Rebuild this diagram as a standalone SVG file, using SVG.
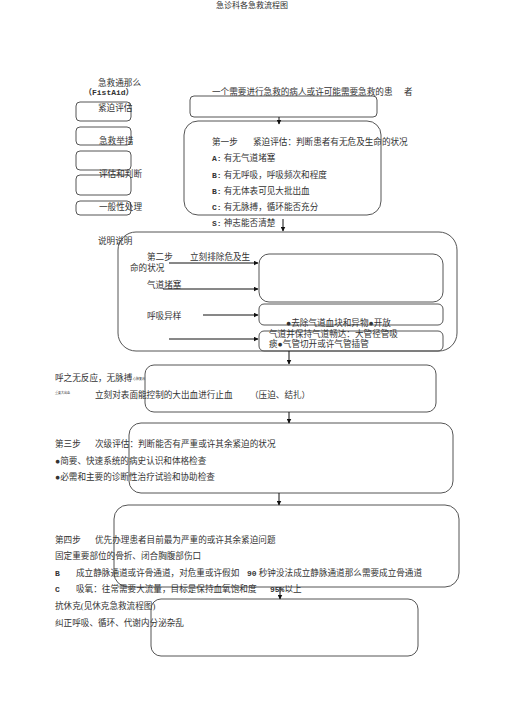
<svg xmlns="http://www.w3.org/2000/svg" width="505" height="714" viewBox="0 0 505 714">
<defs>
<marker id="ah" viewBox="0 0 10 10" refX="9" refY="5" markerWidth="5" markerHeight="5" orient="auto" markerUnits="userSpaceOnUse">
<path d="M0,0 L10,5 L0,10 z" fill="#111"/>
</marker>
</defs>
<style>
text{font-family:"Liberation Serif","Noto Sans CJK SC",serif;font-size:8.6px;fill:#333}
.m{font-family:"Liberation Mono","Noto Sans CJK SC",monospace;font-weight:bold;font-size:8px}
.s{font-size:3px}
.box{fill:none;stroke:#555;stroke-width:1}
.c{stroke:#111;stroke-width:1;fill:none;marker-end:url(#ah)}
</style>
<rect width="505" height="714" fill="#fff"/>
<text x="252" y="8" text-anchor="middle" style="font-size:8px">急诊科各急救流程图</text>

<g id="left-menu">
<text x="98" y="86">急救通那么</text>
<text x="84" y="95" class="m">（FistAid）</text>
<rect class="box" x="76" y="102" width="55" height="19" rx="4"/>
<rect class="box" x="76" y="127" width="55" height="18" rx="4"/>
<rect class="box" x="76" y="151" width="55" height="19" rx="4"/>
<rect class="box" x="76" y="175" width="55" height="20" rx="4"/>
<rect class="box" x="76" y="201" width="55" height="14" rx="4"/>
<text x="98" y="111">紧迫评估</text>
<text x="99" y="144">急救举措</text>
<text x="99" y="177">评估和判断</text>
<text x="99" y="210">一般性处理</text>
</g>

<g id="patient">
<text x="212" y="95">一个需要进行急救的病人或许可能需要急救的患</text>
<text x="404" y="95">者</text>
<rect class="box" x="190" y="96" width="187" height="21" rx="4"/>
</g>

<g id="step1">
<rect class="box" x="184" y="121" width="197" height="94" rx="14"/>
<text x="212" y="145">第一步</text>
<text x="253" y="145">紧迫评估：判断患者有无危及生命的状况</text>
<text x="212" y="161"><tspan class="m">A:</tspan> 有无气道堵塞</text>
<text x="212" y="178"><tspan class="m">B:</tspan> 有无呼吸，呼吸频次和程度</text>
<text x="212" y="194"><tspan class="m">B:</tspan> 有无体表可见大批出血</text>
<text x="212" y="210"><tspan class="m">C:</tspan> 有无脉搏，循环能否充分</text>
<text x="212" y="226"><tspan class="m">S:</tspan> 神志能否清楚</text>
</g>

<g id="step2">
<rect class="box" x="118" y="232" width="339" height="119" rx="18"/>
<text x="98" y="244">说明说明</text>
<text x="147" y="260">第二步</text>
<text x="190" y="260">立刻排除危及生</text>
<text x="130" y="271">命的状况</text>
<text x="147" y="288">气道堵塞</text>
<text x="147" y="319">呼吸异样</text>
<rect class="box" x="259" y="254" width="184" height="48" rx="10"/>
<rect class="box" x="259" y="304" width="184" height="21" rx="5"/>
<rect class="box" x="259" y="331" width="184" height="20" rx="5"/>
<text x="286" y="326">●去除气道血块和异物●开放</text>
<text x="269" y="337">气道并保持气道畅达：大管径管吸</text>
<text x="269" y="347">痰●气管切开或许气管插管</text>
</g>

<g id="bleeding">
<rect class="box" x="145" y="365" width="291" height="47" rx="9"/>
<text x="55" y="381">呼之无反应，无脉搏</text>
<text x="133" y="380" class="s">心肺复苏</text>
<text x="55" y="394" class="s">重要大出血</text>
<text x="95" y="398">立刻对表面能控制的大出血进行止血</text>
<text x="250" y="398">（压迫、结扎）</text>
</g>

<g id="step3">
<rect class="box" x="129" y="423" width="324" height="70" rx="12"/>
<text x="55" y="447">第三步</text>
<text x="95" y="447">次级评估：判断能否有严重或许其余紧迫的状况</text>
<text x="55" y="464">●简要、快速系统的病史认识和体格检查</text>
<text x="55" y="480">●必需和主要的诊断性治疗试验和协助检查</text>
</g>

<g id="step4">
<rect class="box" x="114" y="505" width="345" height="82" rx="14"/>
<text x="55" y="543">第四步</text>
<text x="95" y="543">优先办理患者目前最为严重的或许其余紧迫问题</text>
<text x="55" y="559">固定重要部位的骨折、闭合胸腹部伤口</text>
<text x="55" y="576" class="m">B</text>
<text x="76" y="576">成立静脉通道或许骨通道，对危重或许假如</text>
<text x="247" y="576"><tspan class="m">90</tspan> 秒钟没法成立静脉通道那么需要成立骨通道</text>
<text x="55" y="592" class="m">C</text>
<text x="76" y="592">吸氧：往常需要大流量，目标是保持血氧饱和度</text>
<text x="270" y="592"><tspan class="m">95%</tspan>以上</text>
<text x="55" y="609">抗休克(见休克急救流程图)</text>
<text x="55" y="626">纠正呼吸、循环、代谢内分泌杂乱</text>
</g>

<g id="step5">
<rect class="box" x="151" y="599" width="267" height="57" rx="10"/>
</g>

<g id="connectors">
<line class="c" x1="279" y1="117" x2="279" y2="124"/>
<line class="c" x1="283" y1="219" x2="283" y2="231"/>
<line class="c" x1="169" y1="263" x2="258" y2="263"/>
<line class="c" x1="163" y1="289" x2="258" y2="289"/>
<line class="c" x1="203" y1="315" x2="258" y2="315"/>
<line class="c" x1="169" y1="339" x2="258" y2="339"/>
<line class="c" x1="289" y1="351" x2="289" y2="364"/>
<line class="c" x1="289" y1="412" x2="289" y2="423"/>
<line class="c" x1="279" y1="493" x2="279" y2="505"/>
<line class="c" x1="280" y1="587" x2="280" y2="599"/>
</g>
</svg>
